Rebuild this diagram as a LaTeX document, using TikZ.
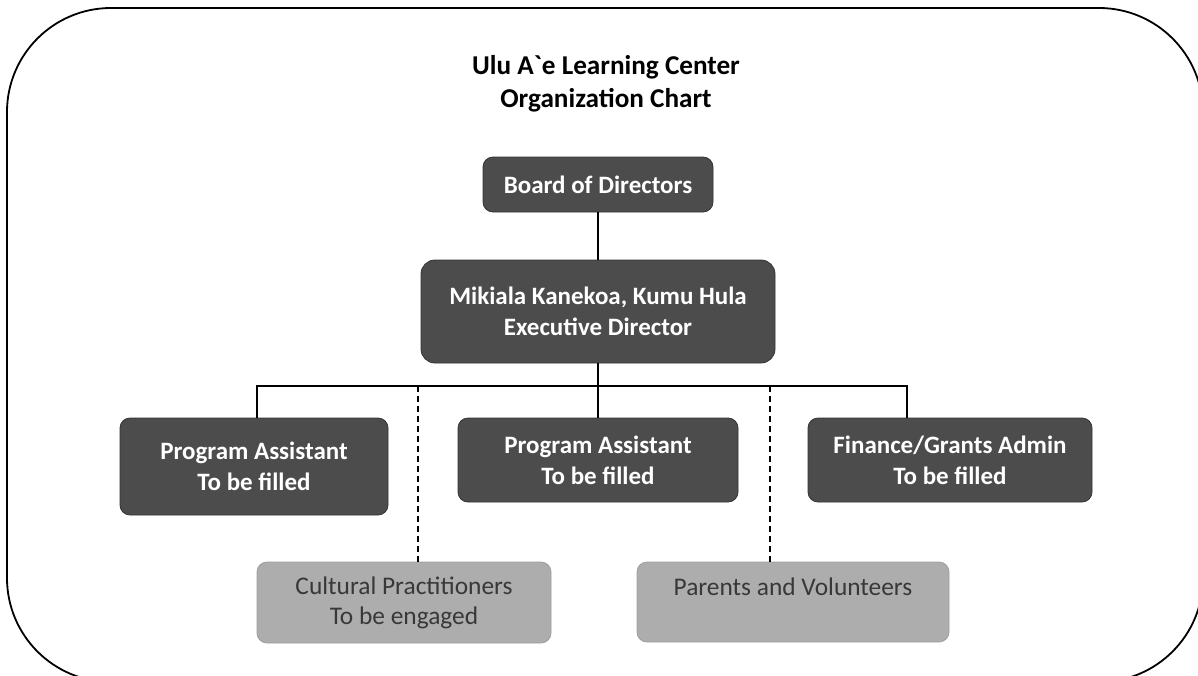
\documentclass[tikz,border=0pt]{standalone}
\usepackage{fontspec}
\setmainfont{Carlito}
\usepackage{xcolor}
\usepackage{tikz}

\begin{document}
\begin{tikzpicture}[x=0.5pt, y=-0.5pt, every node/.style={font=\fontsize{12.5}{15.5}\selectfont}]
  \tikzstyle{staff}=[rectangle,rounded corners=5pt,fill=black!70,draw=black!80,text=white,align=center,inner sep=0pt,font=\fontsize{12.5}{15.5}\selectfont\bfseries]
  \tikzstyle{helper}=[rectangle,rounded corners=5pt,fill=black!32,draw=black!38,text=black!78,align=center,inner sep=0pt,font=\fontsize{12.7}{15}\selectfont]
  \tikzstyle{link}=[line width=1pt]
  \tikzstyle{loose}=[line width=1pt,dash pattern=on 3pt off 2pt]
  \useasboundingbox (0,0) rectangle (1198,675);
  \clip (0,0) rectangle (1198,675);
  % outer frame, runs off the right and bottom edge
  \draw[line width=0.9pt,rounded corners=52pt] (7,8) rectangle (1203,682);
  \node[align=center,font=\fontsize{13.6}{16.5}\selectfont\bfseries] (title) at (606,84) {Ulu A\textasciigrave e Learning Center\\Organization Chart};
  \node[staff,minimum width=115pt,minimum height=27.5pt] (board) at (598,184.5) {Board of Directors};
  \node[staff,rounded corners=7pt,minimum width=177pt,minimum height=51.5pt] (exec) at (598,311.5) {Mikiala Kanekoa, Kumu Hula\\Executive Director};
  \node[staff,minimum width=134pt,minimum height=48.5pt] (pa1) at (254,466.5) {Program Assistant\\To be filled};
  \node[staff,minimum width=140pt,minimum height=42pt] (pa2) at (598,460) {Program Assistant\\To be filled};
  \node[staff,minimum width=142pt,minimum height=42pt] (fin) at (950,460) {Finance/Grants Admin\\To be filled};
  \node[helper,minimum width=147pt,minimum height=40.5pt] (cult) at (404,602.5) {Cultural Practitioners\\To be engaged};
  \node[helper,minimum width=156pt,minimum height=40pt] (par) at (793,602) {Parents and Volunteers\\\mbox{}};
  % reporting lines
  \coordinate (busL) at (257,386);
  \coordinate (busR) at (907,386);
  \coordinate (tapL) at (418,386);
  \coordinate (tapR) at (770,386);
  \draw[link] (board.south) -- (exec.north);
  \draw[link] (exec.south) -- (pa2.north);
  \draw[link] (busL |- pa1.north) -- (busL) -- (busR) -- (busR |- fin.north);
  \draw[loose] (tapL) -- (tapL |- cult.north);
  \draw[loose] (tapR) -- (tapR |- par.north);
\end{tikzpicture}
\end{document}
